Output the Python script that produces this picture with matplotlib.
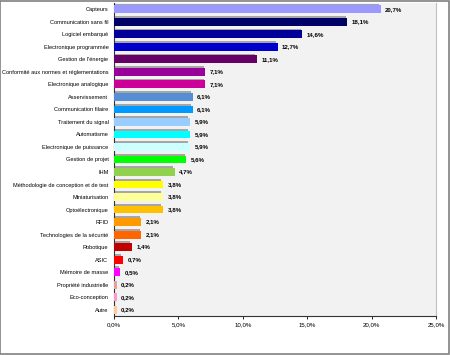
import matplotlib
matplotlib.use("Agg")
import matplotlib.pyplot as plt
from matplotlib.patches import Rectangle

categories = ["Capteurs", "Communication sans fil", "Logiciel embarqué", "Electronique programmée",
              "Gestion de l'énergie", "Conformité aux normes et réglementations", "Electronique analogique",
              "Asservissement", "Communication filaire", "Traitement du signal", "Automatisme",
              "Electronique de puissance", "Gestion de projet", "IHM",
              "Méthodologie de conception et de test", "Miniaturisation", "Optoélectronique", "RFID",
              "Technologies de la sécurité", "Robotique", "ASIC", "Mémoire de masse",
              "Propriété industrielle", "Eco-conception", "Autre"]
values = [20.7, 18.1, 14.6, 12.7, 11.1, 7.1, 7.1, 6.1, 6.1, 5.9, 5.9, 5.9, 5.6, 4.7,
          3.8, 3.8, 3.8, 2.1, 2.1, 1.4, 0.7, 0.5, 0.2, 0.2, 0.2]
colors = ["#9999FF", "#000066", "#000099", "#0000CC", "#660066", "#990099", "#CC0099",
          "#558ED5", "#0099FF", "#99CCFF", "#00FFFF", "#CCFFFF", "#00FF00", "#92D050",
          "#FFFF00", "#FFFF99", "#FFC000", "#FF9900", "#FF6600", "#C00000", "#FF0000",
          "#FF00FF", "#E6A0A0", "#FF99CC", "#FFCC99"]
xticks = [0, 5, 10, 15, 20, 25]
xticklabels = ["0,0%", "5,0%", "10,0%", "15,0%", "20,0%", "25,0%"]

plt.rcParams['font.family'] = ['Liberation Sans', 'DejaVu Sans']
fig = plt.figure(figsize=(4.5, 3.55), dpi=100)
ax = fig.add_axes([114/450, 1-316/355, (436-114)/450, 313/355])
ax.set_facecolor("#F2F2F2")

n = len(categories)
ypos = list(range(n))
h = 0.62
# shadow
ax.barh([y - 0.15 for y in ypos], [v - 0.12 for v in values], left=0, height=h,
        color="#A6A6A6", zorder=2)
ax.barh(ypos, values, height=h, color=colors, zorder=3)
for y, v in zip(ypos, values):
    ax.text(v + 0.35, y, f"{v:.1f}".replace(".", ",") + "%", va="center", ha="left",
            fontsize=4.4, fontweight="bold", zorder=4)

ax.set_ylim(n - 0.5, -0.5)
ax.set_xlim(0, 25)
ax.set_yticks(ypos)
ax.set_yticklabels(categories, fontsize=4.1)
ax.set_xticks(xticks)
ax.set_xticklabels(xticklabels, fontsize=4.4)
ax.tick_params(axis='y', length=0, pad=4)
ax.tick_params(axis='x', length=2.5, width=0.6, pad=2, direction='out')
ax.spines["top"].set_visible(False)
ax.spines["right"].set_color("#C0C0C0")
ax.spines["right"].set_linewidth(0.8)
ax.spines["left"].set_color("#333333")
ax.spines["bottom"].set_color("#333333")
ax.spines["left"].set_linewidth(0.8)
ax.spines["bottom"].set_linewidth(0.8)

fig.patches.append(Rectangle((0.001, 0.002), 0.997, 0.996, transform=fig.transFigure,
                             fill=False, edgecolor="#808080", linewidth=1.2))
fig.savefig("out.png", dpi=100)
